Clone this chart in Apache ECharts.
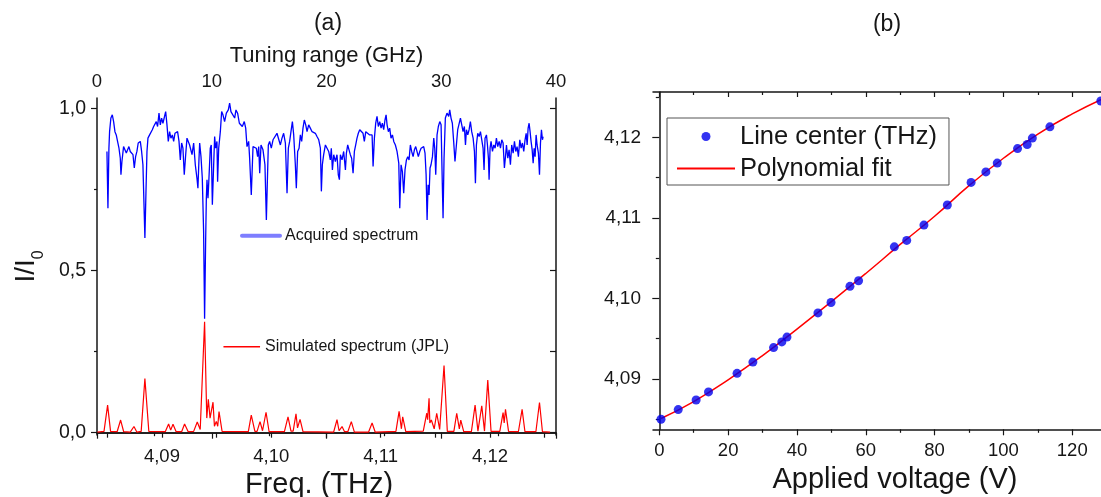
<!DOCTYPE html>
<html>
<head>
<meta charset="utf-8">
<script src="https://cdn.jsdelivr.net/npm/echarts@6/dist/echarts.min.js"></script>
<style>
  html, body { margin: 0; padding: 0; background: #fff; }
  #chart { width: 1101px; height: 497px; }
</style>
</head>
<body>
<div id="chart"></div>
<script>
const FONT = '"Liberation Sans", Arial, sans-serif';

// ---------- panel (a): transmission spectrum ----------
const freqTickValues = [4.085, 4.090, 4.095, 4.100, 4.105, 4.110, 4.115, 4.120, 4.125];
const freqLabelValues = [4.09, 4.10, 4.11, 4.12];
const intensityMajor = [0, 0.5, 1.0];
const intensityMinor = [0.25, 0.75];
const intensityRight = [0, 0.25, 0.5, 0.75, 1.0];

// acquired spectrum: [frequency (THz), I/I0]
const acquired = [
  [4.08497,0.867],[4.08506,0.692],[4.08515,0.877],[4.08521,0.928],[4.08533,0.970],[4.08546,0.980],[4.08552,0.985],[4.08558,0.959],
  [4.08570,0.928],[4.08582,0.918],[4.08594,0.898],[4.08607,0.877],[4.08619,0.846],[4.08625,0.795],[4.08634,0.836],[4.08649,0.882],
  [4.08661,0.877],[4.08674,0.862],[4.08686,0.872],[4.08698,0.882],[4.08710,0.867],[4.08722,0.872],[4.08735,0.857],[4.08747,0.816],
  [4.08759,0.851],[4.08771,0.867],[4.08783,0.893],[4.08796,0.887],[4.08802,0.898],[4.08814,0.867],[4.08826,0.826],[4.08835,0.713],
  [4.08844,0.600],[4.08854,0.744],[4.08863,0.867],[4.08872,0.908],[4.08887,0.918],[4.08899,0.923],[4.08912,0.934],[4.08924,0.944],
  [4.08936,0.949],[4.08948,0.959],[4.08960,0.944],[4.08973,0.985],[4.08985,0.949],[4.08997,0.970],[4.09009,0.954],[4.09021,0.954],
  [4.09034,0.990],[4.09046,0.949],[4.09058,0.898],[4.09070,0.928],[4.09082,0.908],[4.09095,0.918],[4.09107,0.898],[4.09119,0.923],
  [4.09131,0.918],[4.09143,0.928],[4.09156,0.898],[4.09168,0.841],[4.09180,0.893],[4.09192,0.877],[4.09204,0.795],[4.09217,0.857],
  [4.09229,0.908],[4.09253,0.887],[4.09275,0.857],[4.09290,0.893],[4.09305,0.826],[4.09320,0.785],[4.09329,0.754],[4.09339,0.846],
  [4.09345,0.893],[4.09357,0.851],[4.09369,0.785],[4.09381,0.620],[4.09390,0.351],[4.09400,0.600],[4.09406,0.723],[4.09412,0.780],
  [4.09421,0.723],[4.09430,0.785],[4.09442,0.877],[4.09451,0.887],[4.09461,0.703],[4.09473,0.826],[4.09482,0.913],[4.09491,0.877],
  [4.09503,0.898],[4.09509,0.774],[4.09519,0.877],[4.09534,0.928],[4.09546,0.990],[4.09558,0.980],[4.09573,0.959],[4.09589,0.985],
  [4.09607,0.995],[4.09619,1.016],[4.09631,0.990],[4.09647,0.995],[4.09665,0.970],[4.09677,0.995],[4.09692,0.985],[4.09708,0.954],
  [4.09723,0.959],[4.09735,0.944],[4.09753,0.959],[4.09766,0.939],[4.09778,0.882],[4.09793,0.898],[4.09802,0.846],[4.09817,0.733],
  [4.09833,0.882],[4.09848,0.887],[4.09863,0.877],[4.09875,0.851],[4.09885,0.882],[4.09894,0.800],[4.09906,0.887],[4.09924,0.872],
  [4.09942,0.826],[4.09955,0.656],[4.09964,0.774],[4.09973,0.887],[4.09985,0.898],[4.10000,0.877],[4.10016,0.903],[4.10034,0.898],
  [4.10052,0.923],[4.10068,0.918],[4.10083,0.887],[4.10098,0.908],[4.10113,0.923],[4.10129,0.893],[4.10144,0.738],[4.10156,0.877],
  [4.10168,0.898],[4.10180,0.928],[4.10193,0.959],[4.10205,0.918],[4.10220,0.826],[4.10229,0.754],[4.10241,0.867],[4.10254,0.877],
  [4.10266,0.918],[4.10278,0.898],[4.10290,0.939],[4.10302,0.964],[4.10315,0.949],[4.10327,0.928],[4.10342,0.949],[4.10357,0.939],
  [4.10373,0.928],[4.10388,0.934],[4.10403,0.923],[4.10418,0.913],[4.10434,0.903],[4.10449,0.877],[4.10458,0.744],[4.10467,0.826],
  [4.10479,0.857],[4.10495,0.887],[4.10510,0.887],[4.10525,0.867],[4.10540,0.841],[4.10549,0.877],[4.10559,0.810],[4.10571,0.857],
  [4.10586,0.836],[4.10601,0.857],[4.10613,0.795],[4.10623,0.780],[4.10632,0.857],[4.10647,0.841],[4.10662,0.867],[4.10678,0.810],
  [4.10687,0.862],[4.10699,0.887],[4.10711,0.872],[4.10723,0.857],[4.10735,0.846],[4.10748,0.800],[4.10760,0.867],[4.10772,0.887],
  [4.10784,0.908],[4.10796,0.923],[4.10809,0.934],[4.10824,0.939],[4.10839,0.923],[4.10851,0.898],[4.10864,0.928],[4.10882,0.934],
  [4.10900,0.918],[4.10922,0.918],[4.10931,0.821],[4.10943,0.908],[4.10955,0.954],[4.10967,0.975],[4.10979,0.944],[4.10992,0.959],
  [4.11004,0.939],[4.11016,0.954],[4.11028,0.934],[4.11040,0.964],[4.11050,0.980],[4.11059,0.949],[4.11071,0.928],[4.11083,0.939],
  [4.11095,0.908],[4.11108,0.918],[4.11120,0.898],[4.11135,0.887],[4.11150,0.867],[4.11166,0.831],[4.11175,0.692],[4.11187,0.826],
  [4.11199,0.805],[4.11211,0.738],[4.11223,0.810],[4.11236,0.841],[4.11248,0.851],[4.11260,0.841],[4.11272,0.887],[4.11284,0.867],
  [4.11297,0.851],[4.11309,0.872],[4.11321,0.882],[4.11333,0.887],[4.11345,0.851],[4.11358,0.867],[4.11370,0.877],[4.11382,0.872],
  [4.11394,0.882],[4.11406,0.862],[4.11416,0.795],[4.11425,0.656],[4.11434,0.764],[4.11443,0.733],[4.11452,0.816],[4.11461,0.826],
  [4.11474,0.851],[4.11486,0.908],[4.11495,0.877],[4.11504,0.795],[4.11516,0.918],[4.11528,0.944],[4.11541,0.959],[4.11553,0.949],
  [4.11565,0.754],[4.11571,0.661],[4.11580,0.846],[4.11592,0.970],[4.11607,0.985],[4.11623,0.975],[4.11632,0.995],[4.11644,0.970],
  [4.11656,0.954],[4.11668,0.898],[4.11680,0.836],[4.11693,0.887],[4.11705,0.934],[4.11718,0.939],[4.11730,0.970],[4.11742,0.949],
  [4.11754,0.928],[4.11766,0.944],[4.11776,0.887],[4.11785,0.934],[4.11797,0.918],[4.11809,0.934],[4.11821,0.959],[4.11833,0.928],
  [4.11846,0.908],[4.11858,0.867],[4.11867,0.769],[4.11876,0.887],[4.11888,0.923],[4.11901,0.913],[4.11913,0.928],[4.11925,0.903],
  [4.11937,0.877],[4.11946,0.810],[4.11955,0.908],[4.11968,0.918],[4.11977,0.887],[4.11986,0.846],[4.11992,0.780],[4.12001,0.877],
  [4.12010,0.898],[4.12023,0.867],[4.12035,0.887],[4.12047,0.877],[4.12059,0.908],[4.12071,0.882],[4.12084,0.898],[4.12096,0.877],
  [4.12108,0.903],[4.12120,0.893],[4.12132,0.816],[4.12142,0.851],[4.12151,0.887],[4.12163,0.846],[4.12175,0.872],[4.12187,0.826],
  [4.12199,0.887],[4.12212,0.862],[4.12224,0.898],[4.12236,0.867],[4.12248,0.882],[4.12260,0.851],[4.12273,0.903],[4.12285,0.877],
  [4.12297,0.893],[4.12309,0.867],[4.12321,0.903],[4.12331,0.923],[4.12340,0.887],[4.12349,0.939],[4.12358,0.954],[4.12367,0.928],
  [4.12376,0.898],[4.12386,0.872],[4.12395,0.831],[4.12404,0.877],[4.12413,0.851],[4.12422,0.918],[4.12431,0.887],[4.12443,0.862],
  [4.12453,0.795],[4.12462,0.893],[4.12471,0.934],[4.12480,0.903],[4.12486,0.913]
];

// simulated JPL spectrum: [frequency (THz), relative intensity]
const simulated = [
  [4.0841,0.002],
  [4.0847,0.004],[4.08503,0.085],[4.0853,0.004],
  [4.0859,0.003],[4.08622,0.039],[4.0865,0.003],
  [4.0871,0.002],[4.08744,0.019],[4.0877,0.002],
  [4.0881,0.004],[4.08844,0.167],[4.0888,0.004],
  [4.0903,0.003],[4.09061,0.027],[4.0908,0.008],[4.09101,0.026],[4.0913,0.003],
  [4.0918,0.003],[4.09207,0.027],[4.0924,0.003],
  [4.0929,0.004],[4.09323,0.033],[4.0935,0.010],[4.09390,0.342],[4.0941,0.045],[4.09424,0.103],[4.0944,0.045],
  [4.09467,0.094],[4.0948,0.020],[4.09497,0.035],[4.0951,0.020],[4.09522,0.065],[4.0955,0.004],
  [4.0979,0.003],[4.09817,0.054],[4.0985,0.004],
  [4.0987,0.004],[4.09897,0.034],[4.0992,0.006],[4.09952,0.063],[4.0998,0.003],
  [4.1012,0.003],[4.10153,0.049],[4.1018,0.005],
  [4.1020,0.005],[4.10226,0.058],[4.1024,0.015],[4.10263,0.041],[4.1029,0.003],
  [4.1057,0.002],[4.10601,0.040],[4.1062,0.006],[4.10647,0.019],[4.1067,0.003],
  [4.1070,0.003],[4.10732,0.034],[4.1076,0.002],
  [4.1089,0.002],[4.10922,0.030],[4.1095,0.002],
  [4.1114,0.004],[4.11169,0.066],[4.1119,0.012],[4.11202,0.049],[4.1123,0.003],
  [4.1139,0.005],[4.11422,0.060],[4.1143,0.040],[4.11443,0.106],[4.1145,0.030],[4.11464,0.039],[4.1149,0.012],
  [4.11513,0.060],[4.1154,0.010],[4.11580,0.207],[4.1161,0.004],
  [4.1167,0.004],[4.11696,0.060],[4.1172,0.012],[4.11733,0.039],[4.1176,0.003],
  [4.1183,0.003],[4.11864,0.085],[4.1189,0.005],[4.1190,0.005],[4.11925,0.083],[4.1195,0.005],[4.11980,0.162],[4.1201,0.004],
  [4.1209,0.004],[4.12120,0.062],[4.1213,0.030],[4.12142,0.072],[4.1217,0.004],
  [4.1226,0.003],[4.12294,0.072],[4.1232,0.003],
  [4.1242,0.003],[4.12453,0.093],[4.1248,0.003],
  [4.1255,0.002]
];

// ---------- panel (b): line centre vs voltage ----------
const voltageMajor = [0, 20, 40, 60, 80, 100, 120];
const voltageMinor = [10, 30, 50, 70, 90, 110, 130];
const centerMajor = [4.09, 4.10, 4.11, 4.12];
const centerMinor = [4.085, 4.095, 4.105, 4.115, 4.125];

const voltage = [0.5, 5.5, 10.7, 14.3, 22.6, 27.2, 33.2, 35.6, 37.1, 46.1, 49.9, 55.4, 57.9,
                 68.3, 71.9, 76.9, 83.7, 90.6, 94.9, 98.2, 104.1, 106.9, 108.4, 113.5, 128.3];
const lineCenter = [4.0850, 4.0862, 4.0874, 4.0884, 4.0907, 4.0921, 4.0939, 4.0946, 4.0952, 4.0982, 4.0995, 4.1015, 4.1022,
                    4.1064, 4.1072, 4.1091, 4.1116, 4.1144, 4.1157, 4.1168, 4.1186, 4.1191, 4.1199, 4.1213, 4.1245];

const fitVoltage = [0.5, 10, 20, 30, 40, 50, 60, 70, 80, 90, 100, 110, 120, 130];
const fitCenter = [4.0851, 4.0872, 4.0899, 4.0929, 4.0962, 4.0996, 4.1031, 4.1067, 4.1102, 4.1140, 4.1174, 4.1204, 4.1229, 4.1250];

const comma = (v, d) => v.toFixed(d).replace('.', ',');
const INK = '#161616';
const lineStyle = { color: INK, width: 1.5 };
const noSplit = { show: false };

function tickAxis(base) {
  return Object.assign({ type: 'value', splitLine: noSplit, axisLabel: { show: false } }, base);
}

const chart = echarts.init(document.getElementById('chart'), null, { renderer: 'canvas' });

chart.setOption({
  animation: false,
  backgroundColor: '#ffffff',
  textStyle: { fontFamily: FONT, color: INK },
  grid: [
    { left: 97, top: 98, width: 459, height: 337, outerBoundsMode: 'none', containLabel: false },
    { left: 653, top: 92, width: 464, height: 337.3, outerBoundsMode: 'none', containLabel: false }
  ],
  graphic: [
    { type: 'text', x: 328, y: 24, style: { text: '(a)', font: '23px ' + FONT, fill: INK, align: 'center', verticalAlign: 'middle' } },
    { type: 'text', x: 887, y: 25, style: { text: '(b)', font: '23px ' + FONT, fill: INK, align: 'center', verticalAlign: 'middle' } }
  ],
  xAxis: [
    // 0: frequency, bottom of panel (a)
    tickAxis({
      gridIndex: 0, position: 'bottom', min: 4.08406, max: 4.12604,
      axisLine: { show: true, lineStyle },
      axisTick: { show: true, customValues: freqTickValues, length: 5, lineStyle: { color: INK, width: 1.2 } },
      axisLabel: { show: true, customValues: freqLabelValues, formatter: v => comma(v, 2), fontSize: 18.5, color: INK, margin: 12, fontFamily: FONT },
      name: 'Freq. (THz)', nameLocation: 'middle', nameGap: 33,
      nameTextStyle: { fontSize: 29, color: INK, fontFamily: FONT, padding: [0, 15, 0, 0] }
    }),
    // 1: tuning range, top of panel (a)
    tickAxis({
      gridIndex: 0, position: 'top', min: 0, max: 40, interval: 10,
      axisLine: { show: true, lineStyle },
      axisTick: { show: true, inside: true, length: 6, lineStyle: { color: INK, width: 1.2 } },
      minorTick: { show: true, splitNumber: 2, length: 3.5, lineStyle: { color: INK, width: 1.2 } },
      axisLabel: { show: true, fontSize: 18.5, color: INK, margin: 7, fontFamily: FONT, showMinLabel: true, showMaxLabel: true },
      name: 'Tuning range (GHz)', nameLocation: 'middle', nameGap: 25,
      nameTextStyle: { fontSize: 22, color: INK, fontFamily: FONT }
    }),
    // 2: applied voltage, bottom of panel (b)
    tickAxis({
      gridIndex: 1, position: 'bottom', min: -1.83, max: 133,
      axisLine: { show: true, lineStyle },
      axisTick: { show: true, customValues: voltageMajor, length: 6, lineStyle: { color: INK, width: 1.2 } },
      axisLabel: { show: true, customValues: voltageMajor, fontSize: 18.5, color: INK, margin: 12, fontFamily: FONT },
      name: 'Applied voltage (V)', nameLocation: 'middle', nameGap: 33,
      nameTextStyle: { fontSize: 29, color: INK, fontFamily: FONT, padding: [0, 0, 0, 20] }
    }),
    // 3: voltage minor ticks, bottom
    tickAxis({
      gridIndex: 1, position: 'bottom', min: -1.83, max: 133,
      axisLine: { show: false },
      axisTick: { show: true, customValues: voltageMinor, length: 3.5, lineStyle: { color: INK, width: 1.2 } }
    }),
    // 4: voltage frame, top
    tickAxis({
      gridIndex: 1, position: 'top', min: -1.83, max: 133,
      axisLine: { show: true, lineStyle },
      axisTick: { show: true, inside: true, customValues: voltageMajor, length: 5, lineStyle: { color: INK, width: 1.2 } }
    }),
    // 5: voltage minor ticks, top
    tickAxis({
      gridIndex: 1, position: 'top', min: -1.83, max: 133,
      axisLine: { show: false },
      axisTick: { show: true, inside: true, customValues: voltageMinor, length: 3, lineStyle: { color: INK, width: 1.2 } }
    })
  ],
  yAxis: [
    // 0: I/I0, left of panel (a)
    tickAxis({
      gridIndex: 0, position: 'left', min: -0.0071, max: 1.0318,
      axisLine: { show: true, lineStyle },
      axisTick: { show: true, customValues: intensityMajor, length: 6, lineStyle: { color: INK, width: 1.2 } },
      axisLabel: { show: true, customValues: intensityMajor, formatter: v => comma(v, 1), fontSize: 19.5, color: INK, margin: 11, fontFamily: FONT },
      name: 'I/I{s|0}', nameLocation: 'middle', nameGap: 50,
      nameTextStyle: {
        fontSize: 28, color: INK, fontFamily: FONT,
        rich: { s: { fontSize: 16, color: INK, fontFamily: FONT, padding: [26, 0, 0, 0] } }
      }
    }),
    // 1: I/I0 minor ticks
    tickAxis({
      gridIndex: 0, position: 'left', min: -0.0071, max: 1.0318,
      axisLine: { show: false },
      axisTick: { show: true, customValues: intensityMinor, length: 3, lineStyle: { color: INK, width: 1.2 } }
    }),
    // 2: right frame of panel (a)
    tickAxis({
      gridIndex: 0, position: 'right', min: -0.0071, max: 1.0318,
      axisLine: { show: true, lineStyle },
      axisTick: { show: true, inside: true, customValues: intensityRight, length: 6, lineStyle: { color: INK, width: 1.2 } }
    }),
    // 3: line centre, left of panel (b)
    tickAxis({
      gridIndex: 1, position: 'left', min: 4.083757, max: 4.125622,
      axisLine: { show: true, lineStyle },
      axisTick: { show: true, customValues: centerMajor, length: 7, lineStyle: { color: INK, width: 1.2 } },
      axisLabel: { show: true, customValues: centerMajor, formatter: v => comma(v, 2), fontSize: 19, color: INK, margin: 12, fontFamily: FONT }
    }),
    // 4: line centre minor ticks
    tickAxis({
      gridIndex: 1, position: 'left', min: 4.083757, max: 4.125622,
      axisLine: { show: false },
      axisTick: { show: true, customValues: centerMinor, length: 3.5, lineStyle: { color: INK, width: 1.2 } }
    })
  ],
  legend: [
    {
      data: [{ name: 'Acquired spectrum', itemStyle: { opacity: 0 } }], left: 240, top: 227.7, padding: 0,
      itemWidth: 38, itemHeight: 8, orient: 'vertical',
      lineStyle: { color: 'rgba(40,40,255,0.6)', width: 4, cap: 'round' },
      textStyle: { fontSize: 16, color: INK, fontFamily: FONT }
    },
    {
      data: [{ name: 'Simulated spectrum (JPL)', itemStyle: { opacity: 0 } }], left: 222.7, top: 338.7, padding: 0,
      itemWidth: 36.6, itemHeight: 8, orient: 'vertical',
      lineStyle: { width: 1.5 },
      textStyle: { fontSize: 16, color: INK, fontFamily: FONT }
    },
    {
      data: ['Line center (THz)', { name: 'Polynomial fit', itemStyle: { opacity: 0 } }], left: 667, top: 118,
      orient: 'vertical', itemWidth: 58, itemHeight: 9, itemGap: 6,
      padding: [5.5, 12, 3.5, 9],
      backgroundColor: '#ffffff', borderColor: '#555555', borderWidth: 1, borderRadius: 0,
      lineStyle: { width: 2 },
      textStyle: { fontSize: 25.5, color: INK, fontFamily: FONT }
    }
  ],
  series: [
    {
      name: 'Simulated spectrum (JPL)', type: 'line', xAxisIndex: 0, yAxisIndex: 0,
      data: simulated, symbol: 'none', color: '#ff0000',
      lineStyle: { color: '#ff0000', width: 1.2 }, z: 2
    },
    {
      name: 'Acquired spectrum', type: 'line', xAxisIndex: 0, yAxisIndex: 0,
      data: acquired, symbol: 'none', color: '#0000ff',
      lineStyle: { color: '#0000ff', width: 1.3 }, z: 3
    },
    {
      name: 'Polynomial fit', type: 'line', xAxisIndex: 2, yAxisIndex: 3,
      data: fitVoltage.map((v, i) => [v, fitCenter[i]]), smooth: true, symbol: 'none',
      color: '#ff0000', lineStyle: { color: '#ff0000', width: 1.5 }, z: 2
    },
    {
      name: 'Line center (THz)', type: 'scatter', xAxisIndex: 2, yAxisIndex: 3,
      data: voltage.map((v, i) => [v, lineCenter[i]]), symbol: 'circle', symbolSize: 9,
      color: '#0000ee', itemStyle: { color: '#0000ee' }, z: 3
    }
  ]
});
</script>
</body>
</html>
